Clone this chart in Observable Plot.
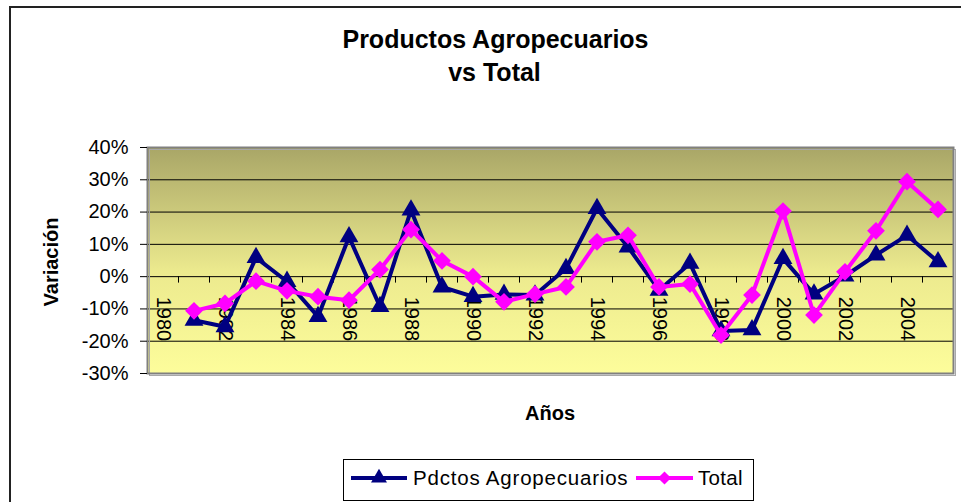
<!DOCTYPE html>
<html>
<head>
<meta charset="utf-8">
<script src="https://cdn.jsdelivr.net/npm/d3@7"></script>
<script src="https://cdn.jsdelivr.net/npm/@observablehq/plot@0.6"></script>
<style>
  html, body { margin: 0; padding: 0; background: #fff; }
  #wrap { position: relative; width: 961px; height: 502px; overflow: hidden; background: #fff;
          font-family: "Liberation Sans", Arial, sans-serif; }
  #outer { position: absolute; left: 9px; top: 6px; width: 1000px; height: 600px;
           border-left: 2px solid #222; border-top: 2px solid #222; }
  #chart { position: absolute; left: 0; top: 0; }
</style>
</head>
<body>
<div id="wrap">
  <div id="outer"></div>
  <div id="chart"></div>
</div>
<script>
// ---- data ----
const categories = [1980,1981,1982,1983,1984,1985,1986,1987,1988,1989,1990,1991,1992,1993,1994,1995,1996,1997,1998,1999,2000,2001,2002,2003,2004,2005];
const years = [1981,1982,1983,1984,1985,1986,1987,1988,1989,1990,1991,1992,1993,1994,1995,1996,1997,1998,1999,2000,2001,2002,2003,2004,2005];
const agro  = [-13.5,-15.5,5.9,-1.5,-12.4,12.3,-9.3,20.6,-3.2,-6.2,-5.5,-5.7,2.5,21.1,9.2,-4.2,4.1,-16.8,-16.5,5.6,-5.4,0.2,6.7,12.8,4.6];
const total = [-10.6,-8.3,-1.4,-4.4,-6.2,-7.3,2.2,14.6,4.9,0,-7.8,-5.4,-3.2,10.8,12.8,-3.2,-2.3,-18.1,-5.7,20.3,-11.9,1.5,14.2,29.4,20.8];
const labelYears = [1980,1982,1984,1986,1988,1990,1992,1994,1996,1998,2000,2002,2004];
const yTicks = [-30,-20,-10,0,10,20,30,40];
const gridVals = [-20,-10,0,10,20,30];
const seriesNames = ["Pdctos Agropecuarios", "Total"];
const seriesColors = ["#000080", "#ff00ff"];
const titleLines = ["Productos Agropecuarios", "vs Total"];
const xTitle = "Años";
const yTitle = "Variación";

const rows = years.map((y, i) => ({year: y, agro: agro[i], total: total[i]}));
// category boundaries (tick marks between categories)
const tickPos = categories.slice(0, -1).map(c => c + 0.5);

const FONT = '"Liberation Sans", Arial, sans-serif';

const chart = Plot.plot({
  width: 961,
  height: 502,
  marginLeft: 147,
  marginRight: 8,
  marginTop: 147,
  marginBottom: 129,
  style: {fontFamily: FONT, fontSize: "20px", background: "transparent", color: "black", overflow: "visible"},
  x: {type: "linear", domain: [categories[0] - 0.5, categories[categories.length - 1] + 0.5], axis: null},
  y: {domain: [-30, 40], axis: null},
  marks: [
    Plot.frame({fill: "url(#bgGrad)", stroke: "none"}),
    Plot.ruleY(gridVals, {stroke: "black", strokeWidth: 1}),
    Plot.ruleX(tickPos, {x: d => d, y1: 0, y2: -2, stroke: "black", strokeWidth: 1}),
    Plot.text(labelYears, {x: d => d, y: 0, text: d => String(d), rotate: 90, textAnchor: "start", dy: 20, fontSize: 20, fill: "black"}),
    Plot.frame({stroke: "#a8a8a8", strokeWidth: 1, dx: 2, dy: 2}),
    Plot.frame({stroke: "#808080", strokeWidth: 2}),
    Plot.axisY({ticks: yTicks, tickFormat: d => d + "%", tickSize: 7, tickPadding: 12, fontSize: 20, label: null, stroke: "black"}),
    Plot.line(rows, {x: "year", y: "agro", stroke: seriesColors[0], strokeWidth: 4}),
    Plot.dot(rows, {x: "year", y: "agro", symbol: "triangle", r: 7, fill: seriesColors[0]}),
    Plot.line(rows, {x: "year", y: "total", stroke: seriesColors[1], strokeWidth: 4}),
    Plot.dot(rows, {x: "year", y: "total", symbol: "diamond2", r: 8, fill: seriesColors[1]})
  ]
});

const svg = d3.select(chart);
const grad = svg.insert("defs", ":first-child")
  .append("linearGradient").attr("id", "bgGrad")
  .attr("x1", 0).attr("y1", 0).attr("x2", 0).attr("y2", 1);
grad.append("stop").attr("offset", "0%").attr("stop-color", "#a9a667");
grad.append("stop").attr("offset", "55%").attr("stop-color", "#ecea8e");
grad.append("stop").attr("offset", "100%").attr("stop-color", "#fdfd9b");

// titles
const deco = svg.append("g").attr("font-family", FONT).attr("fill", "black");
deco.append("text").attr("x", 495.5).attr("y", 47.5).attr("text-anchor", "middle")
  .attr("font-size", 25).attr("font-weight", "bold").text(titleLines[0]);
deco.append("text").attr("x", 494.5).attr("y", 80.5).attr("text-anchor", "middle")
  .attr("font-size", 25).attr("font-weight", "bold").text(titleLines[1]);
deco.append("text").attr("x", 550).attr("y", 420).attr("text-anchor", "middle")
  .attr("font-size", 20).attr("font-weight", "bold").text(xTitle);
deco.append("text").attr("transform", "translate(58,262) rotate(-90)").attr("text-anchor", "middle")
  .attr("font-size", 20).attr("font-weight", "bold").text(yTitle);

// legend
const lg = deco.append("g");
lg.append("rect").attr("x", 343.5).attr("y", 459.5).attr("width", 410).attr("height", 41)
  .attr("fill", "white").attr("stroke", "black").attr("stroke-width", 1);
const items = [
  {x1: 351, x2: 407, tx: 413, sym: d3.symbolTriangle, size: 110, ls: 0.8},
  {x1: 636, x2: 693, tx: 698, sym: d3.symbolDiamond2, size: 110, ls: 0.3}
];
items.forEach((it, i) => {
  lg.append("line").attr("x1", it.x1).attr("x2", it.x2).attr("y1", 478).attr("y2", 478)
    .attr("stroke", seriesColors[i]).attr("stroke-width", 4);
  lg.append("path").attr("d", d3.symbol(it.sym, it.size)())
    .attr("transform", `translate(${(it.x1 + it.x2) / 2},478)`).attr("fill", seriesColors[i]);
  lg.append("text").attr("x", it.tx).attr("y", 485).attr("text-anchor", "start")
    .attr("font-size", 20.5).attr("letter-spacing", it.ls).text(seriesNames[i]);
});

document.getElementById("chart").appendChild(chart);
</script>
</body>
</html>
